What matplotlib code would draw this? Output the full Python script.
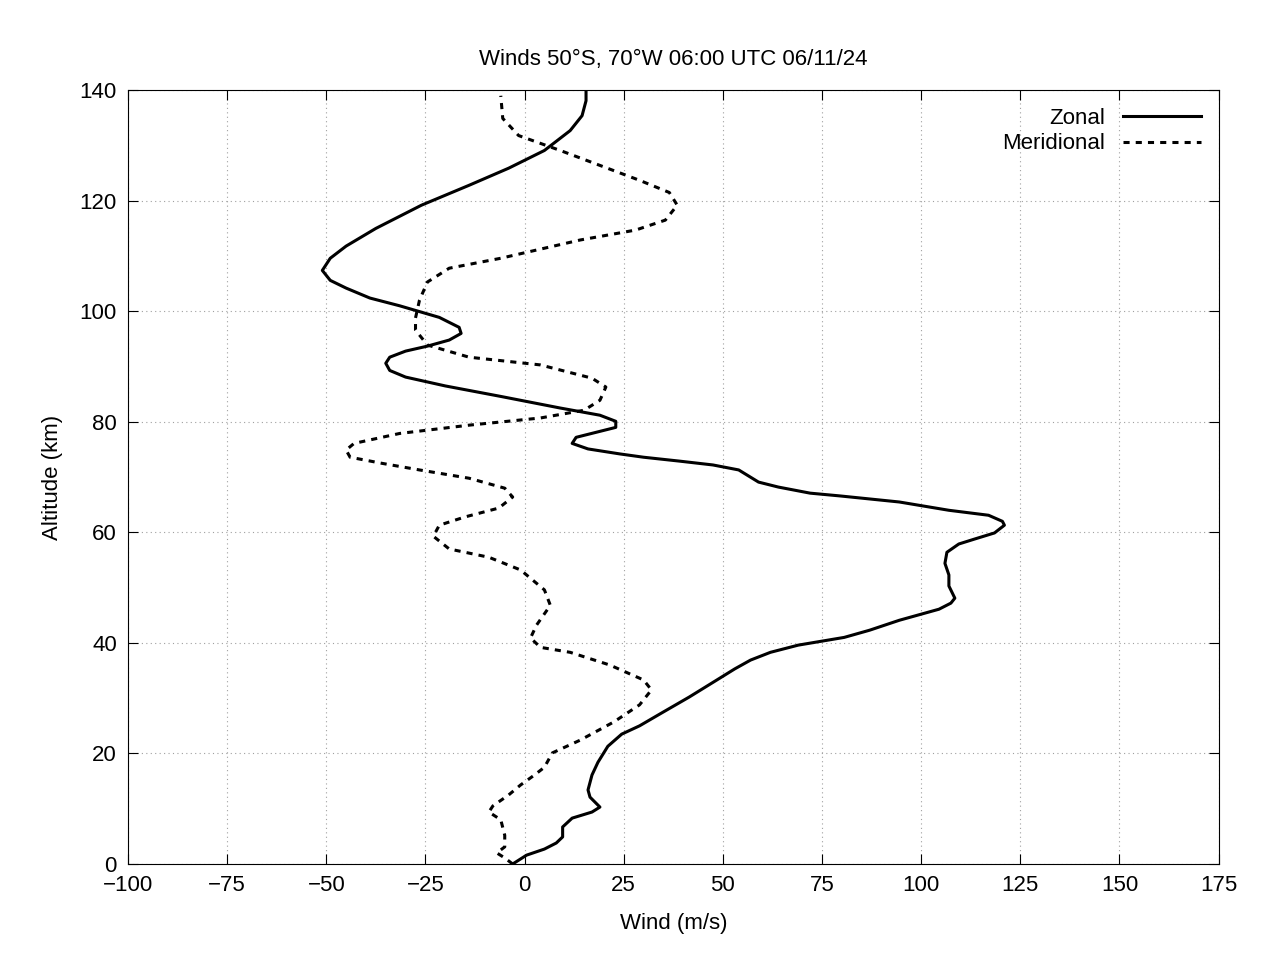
import matplotlib
matplotlib.use("Agg")
import matplotlib.pyplot as plt

zonal_alt = [0,1.6,2.7,3.8,4.9,6.7,8.3,9.4,10.3,12.1,13.4,16.1,18.4,21.3,23.5,25,27.3,30.2,33.3,35.3,36.9,38.3,39.6,41,42.3,44.1,46.1,47.2,48.1,50.3,52.3,54.4,56.4,57.9,58.8,59.9,61.3,62,63.1,64,65.5,66.6,67.1,68.2,69.1,71.3,72.2,72.9,73.6,74.2,75.1,76.1,77.2,79,80.1,81.2,82.5,84.6,86.5,88.1,89.3,90.6,91.7,92.8,93.7,94.8,96,97.1,98.9,101,102.4,104.2,105.6,107.4,109.6,111.8,115,119.2,122.8,125.9,129.1,132.7,135.4,138.1,140]
zonal_wind = [-3,0.5,5,8,9.6,9.6,12,17,19,16.5,16,17,18.5,21,24.5,29,34.5,41.5,48.5,53,57,62,69,80.6,87,94.5,104.5,107.5,108.5,107,107,106,106.5,109.5,113.5,118.5,121,120.5,117,107,94.5,79.5,72,64,59,54,47.5,39,30,24,16,12,13,23,23,19,9,-6,-20,-30,-34,-35,-34,-30,-24.5,-19,-16,-16.5,-21.5,-31.5,-39,-45,-49,-51,-49,-45,-37.5,-26,-14,-4,5,11.5,14.5,15.5,15.5]

merid_alt = [0,1.1,2,3.1,5.2,8,9.4,10.5,12.5,14.3,16.1,17.5,20.1,22.4,25.7,28.8,31.5,33.3,36,38.3,39.2,40.9,43.2,46.8,49.6,53.2,55.5,57,59.3,61.3,62.8,64.4,66.4,68,69.8,71.3,72.5,73.6,74.9,76.1,77.9,79.4,80.7,82.1,83.9,86.3,87.9,90.3,91.7,93.9,96.6,98.8,102,105.3,107.8,109.6,112.9,114.7,116.5,119.2,121.5,123.7,126.4,129.1,131.8,134.9,139]
merid_wind = [-3,-5,-7,-5,-5,-6,-9,-8,-4,-1,2.5,5,7,14,22.5,29,32,30,21.5,11.5,4,1.5,3,6.5,5,-1,-9,-19,-23,-21.5,-15,-6.5,-3,-5,-14,-26.5,-36,-44,-45,-43,-31.5,-14,4,15,19,20.5,17,4,-14,-24.5,-27.5,-27.5,-26.5,-24.5,-19,-6,14,28,35.5,38.5,36.5,29,19,9,-1.5,-5.5,-6]

xticks = [-100,-75,-50,-25,0,25,50,75,100,125,150,175]
yticks = [0,20,40,60,80,100,120,140]

plt.rcParams['font.family'] = ['Liberation Sans', 'DejaVu Sans']
fig = plt.figure(figsize=(12.8, 9.6), dpi=100)
ax = fig.add_axes([0.1, 0.1, 0.852, 0.806])
ax.plot(zonal_wind, zonal_alt, color='black', lw=2.2, label='Zonal')
ax.plot(merid_wind, merid_alt, color='black', lw=2.2, ls=(0, (2, 2)), label='Meridional')
ax.set_xlim(-100, 175)
ax.set_ylim(0, 140)
ax.set_xticks(xticks)
ax.set_yticks(yticks)
ax.tick_params(direction='in', top=True, right=True, labelsize=16, length=7, pad=8)
ax.grid(True, color='#a0a0a0', ls=(0, (1, 3)), lw=0.8)
ax.set_xlabel('Wind (m/s)', fontsize=16, labelpad=12)
ax.set_ylabel('Altitude (km)', fontsize=16, labelpad=12)
ax.set_title('Winds 50°S, 70°W 06:00 UTC 06/11/24', fontsize=16, pad=18)
leg = ax.legend(loc='upper right', frameon=False, fontsize=16, markerfirst=False,
                handlelength=3.5, borderaxespad=0.4, labelspacing=0.2)
fig.savefig('out.png')
